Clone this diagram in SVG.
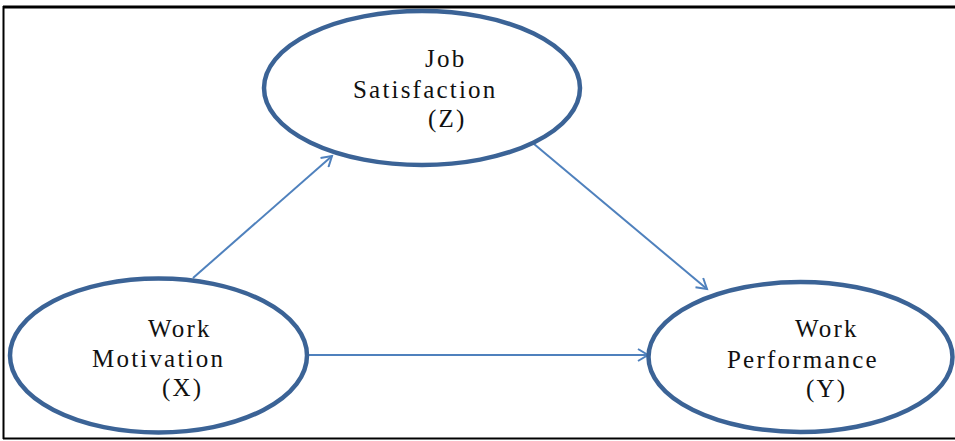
<svg xmlns="http://www.w3.org/2000/svg" width="955" height="441" viewBox="0 0 955 441">
<defs>
<style>
.node ellipse{fill:#ffffff;stroke:#3b6396;stroke-width:4.5}
.lbl{font-family:"Liberation Serif","Times New Roman",serif;font-size:25px;letter-spacing:2.2px;fill:#111}
.conn line{stroke:#4f81bd;stroke-width:2;fill:none}
.frame{stroke:#000;fill:none}
</style>
<marker id="arr" markerWidth="14" markerHeight="14" refX="11" refY="7" orient="auto" markerUnits="userSpaceOnUse">
<path d="M1,1 L11,7 L1,13" fill="none" stroke="#4f81bd" stroke-width="2"/>
</marker>
</defs>
<rect width="955" height="441" fill="#ffffff"/>
<g id="frame">
<line class="frame" x1="3" y1="7" x2="955" y2="7" stroke-width="3"/>
<line class="frame" x1="3.5" y1="6" x2="3.5" y2="439" stroke-width="2"/>
<line class="frame" x1="3" y1="438.5" x2="955" y2="438.5" stroke-width="2"/>
</g>
<g id="connectors" class="conn">
<line x1="193" y1="278" x2="332" y2="156" marker-end="url(#arr)"/>
<line x1="534" y1="144" x2="707" y2="289" marker-end="url(#arr)"/>
<line x1="308" y1="355" x2="648" y2="355" marker-end="url(#arr)"/>
</g>
<g id="node-z" class="node">
<ellipse cx="422" cy="88" rx="158" ry="77"/>
<text class="lbl" x="425" y="67">Job</text>
<text class="lbl" x="353" y="98">Satisfaction</text>
<text class="lbl" x="428" y="127">(Z)</text>
</g>
<g id="node-x" class="node">
<ellipse cx="158.5" cy="355.5" rx="148.5" ry="77"/>
<text class="lbl" x="148" y="337">Work</text>
<text class="lbl" x="92" y="367">Motivation</text>
<text class="lbl" x="162" y="396">(X)</text>
</g>
<g id="node-y" class="node">
<ellipse cx="800.5" cy="357" rx="152" ry="75"/>
<text class="lbl" x="795" y="337">Work</text>
<text class="lbl" x="727" y="368">Performance</text>
<text class="lbl" x="806" y="397">(Y)</text>
</g>
</svg>
